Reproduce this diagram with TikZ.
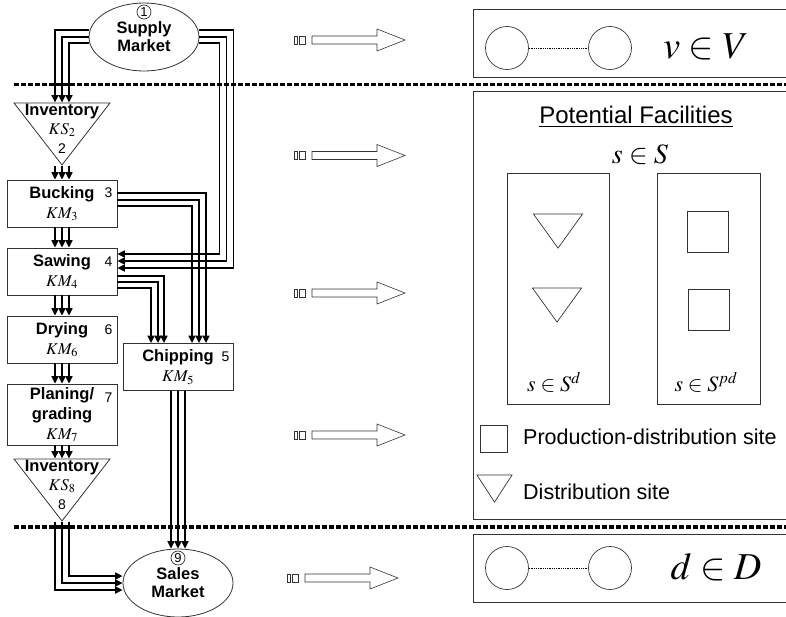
\documentclass[tikz,border=0pt]{standalone}
\usepackage{mathptmx}
\usepackage[no-math]{fontspec}
\setmainfont{Liberation Sans}
\usetikzlibrary{shapes.geometric, arrows.meta, positioning}
\tikzstyle{process} = [
    rectangle,
    minimum width=110pt,
    minimum height=47pt,
    inner sep=1pt,
    align=center,
    draw=black!80,
    line width=0.8pt,
    font=\fontsize{16.5}{20}\selectfont
]
\tikzstyle{market} = [
    ellipse,
    minimum width=110pt,
    minimum height=68pt,
    inner sep=0pt,
    align=center,
    draw=black!80,
    line width=0.8pt,
    font=\fontsize{16.5}{18}\selectfont\bfseries
]
\tikzstyle{inventory} = [
    isosceles triangle,
    shape border rotate=-90,
    isosceles triangle stretches,
    minimum width=96pt,
    minimum height=62pt,
    inner sep=0pt,
    draw=black!80,
    line width=0.8pt
]
\tikzstyle{invtext} = [
    align=center,
    inner sep=0pt,
    font=\fontsize{16.5}{19}\selectfont
]
\tikzstyle{tag} = [inner sep=0pt, font=\fontsize{14}{14}\selectfont]
\tikzstyle{numcirc} = [
    circle,
    minimum size=14pt,
    inner sep=0pt,
    draw=black!80,
    line width=0.7pt,
    font=\fontsize{13}{13}\selectfont
]
\tikzstyle{flow} = [line width=1.6pt, -{Triangle[length=7.5pt,width=7pt]}]
\tikzstyle{divider} = [line width=3.5pt, dash pattern=on 4.5pt off 2.5pt]
\tikzstyle{frame} = [draw=black!80, line width=0.8pt]
\tikzstyle{site} = [circle, minimum size=43pt, draw=black!80, line width=0.7pt]
\tikzstyle{linkdots} = [line width=1pt, dash pattern=on 1pt off 0.8pt]
\tikzstyle{facility} = [rectangle, minimum size=41pt, draw=black!80, line width=0.7pt]
\tikzstyle{depot} = [
    isosceles triangle,
    shape border rotate=-90,
    isosceles triangle stretches,
    minimum width=49pt,
    minimum height=34pt,
    inner sep=0pt,
    draw=black!80,
    line width=0.7pt
]
\tikzstyle{hollow} = [draw=black!80, line width=0.6pt, fill=white]

\begin{document}
\begin{tikzpicture}[x=1pt, y=-1pt]
\clip (0,0) rectangle (786,616);

\draw [divider] (14,84.5) -- (786,84.5);
\draw [divider] (14,527) -- (786,527);

\node (supply) [market] at (144,37) {Supply\\Market};
\node (c1) [numcirc] at (144,12) {1};

\node (inv2) [inventory, anchor=apex] at (62,166) {};
\node (inv2txt) [invtext, below=1pt of inv2.north]
{\textbf{Inventory}\\$KS_2$\\{\fontsize{14}{14}\selectfont 2}};

\node (bucking) [process] at (62,203.5) {\textbf{Bucking}\\$KM_3$};
\node (sawing) [process] at (62,271.5) {\textbf{Sawing}\\$KM_4$};
\node (drying) [process] at (62,339.5) {\textbf{Drying}\\$KM_6$};
\node (planing) [process, minimum height=61pt] at (62,414.5)
{\textbf{Planing/}\\\textbf{grading}\\$KM_7$};

\node (inv8) [inventory, anchor=apex] at (62,522) {};
\node (inv8txt) [invtext, below=1pt of inv8.north]
{\textbf{Inventory}\\$KS_8$\\{\fontsize{14}{14}\selectfont 8}};

\node (chipping) [process] at (178,367) {\textbf{Chipping}\\$KM_5$};

\node (sales) [market] at (178,583) {\\[-6pt]Sales\\Market};
\node (c9) [numcirc] at (178,558) {9};

\node (t3) [tag] at ([xshift=-9pt,yshift=-13pt]bucking.north east) {3};
\node (t4) [tag] at ([xshift=-9pt,yshift=-14pt]sawing.north east) {4};
\node (t6) [tag] at ([xshift=-9pt,yshift=-14pt]drying.north east) {6};
\node (t7) [tag] at ([xshift=-9pt,yshift=-14pt]planing.north east) {7};
\node (t5) [tag] at ([xshift=-8pt,yshift=-14pt]chipping.north east) {5};

\foreach \dx in {-7,0,7} {
    \draw [flow] ([xshift=\dx pt]inv2.apex) -- ([xshift=\dx pt]bucking.north);
    \draw [flow] ([xshift=\dx pt]bucking.south) -- ([xshift=\dx pt]sawing.north);
    \draw [flow] ([xshift=\dx pt]sawing.south) -- ([xshift=\dx pt]drying.north);
    \draw [flow] ([xshift=\dx pt]drying.south) -- ([xshift=\dx pt]planing.north);
    \draw [flow] ([xshift=\dx pt]planing.south) -- ([xshift=\dx pt]inv8.north);
    \draw [flow] ([xshift=\dx pt]chipping.south) -- ([xshift=\dx pt]sales.north);
    \draw [flow] ([xshift=\dx pt]inv8.apex) |- ([yshift=\dx pt]sales.west);
}
\foreach \dy/\dx in {7/-7, 0/0, -6/7}
    \draw [flow] ([yshift=\dy pt]supply.west) -| ([xshift=\dx pt]inv2.north);
\foreach \dy/\run/\ey in {7/34/3.5, 0/27/10.5, -6/20/17.5}
    \draw [flow] ([yshift=\dy pt]supply.east) -- ++(\run,0) |- ([yshift=\ey pt]sawing.east);
\foreach \dy/\dx in {10.5/28, 3.5/21, -2.5/14}
    \draw [flow] ([yshift=\dy pt]bucking.east) -| ([xshift=\dx pt]chipping.north);
\foreach \dy/\dx in {-4.5/-14, -10.5/-20, -16.5/-27}
    \draw [flow] ([yshift=\dy pt]sawing.east) -| ([xshift=\dx pt]chipping.north);

\foreach \y/\s in {40/0, 155.5/0, 293/0, 435/0, 578/-7} {
    \draw [hollow] ({294+\s},{\y-4}) rectangle ({297+\s},{\y+4});
    \draw [hollow] ({299+\s},{\y-4}) rectangle ({305+\s},{\y+4});
    \draw [hollow] ({312+\s},{\y-4}) -- ({377+\s},{\y-4}) -- ({377+\s},{\y-11})
        -- ({405+\s},\y) -- ({377+\s},{\y+11}) -- ({377+\s},{\y+4})
        -- ({312+\s},{\y+4}) -- cycle;
}

\draw [frame] (473,9) rectangle (800,77);
\node (v1) [site] at (507,48) {};
\node (v2) [site] at (610,48) {};
\draw [linkdots] (v1) -- (v2);
\node (vset) [font=\fontsize{38}{38}\selectfont] at (706,47) {$v\in V$};

\draw [frame] (473,91) rectangle (800,519);
\node (potential) [font=\fontsize{24}{24}\selectfont] at (636,117)
{\underline{Potential Facilities}};
\node (sset) [font=\fontsize{28}{28}\selectfont] at (640,155) {$s\in S$};
\node (sdbox) [rectangle, frame, minimum width=102pt, minimum height=231pt]
at (558,288.5) {};
\node (spdbox) [rectangle, frame, minimum width=103pt, minimum height=231pt]
at (708.5,288.5) {};
\node (d1) [depot, anchor=apex] at (558,249) {};
\node (d2) [depot, anchor=apex] at (557,323) {};
\node (p1) [facility] at (707.5,231.5) {};
\node (p2) [facility] at (708.5,310) {};
\node (sdset) [font=\fontsize{22}{22}\selectfont] at (554,382) {$s\in S^d$};
\node (spdset) [font=\fontsize{22}{22}\selectfont] at (706,382) {$s\in S^{pd}$};

\node (legsq) [facility, minimum width=29pt, minimum height=27pt,
    minimum size=27pt] at (493.5,438.5) {};
\node (legsqtxt) [anchor=west, inner sep=0pt, font=\fontsize{21.5}{22}\selectfont]
at (523,437) {Production-distribution site};
\node (legtri) [depot, minimum width=35pt, minimum height=27pt, anchor=apex]
at (494.5,503) {};
\node (legtritxt) [anchor=west, inner sep=0pt, font=\fontsize{21.5}{22}\selectfont]
at (523,492) {Distribution site};

\draw [frame] (473,534) rectangle (800,602);
\node (dd1) [site] at (507,568) {};
\node (dd2) [site] at (610,568) {};
\draw [linkdots] (dd1) -- (dd2);
\node (dset) [font=\fontsize{38}{38}\selectfont] at (716,567) {$d\in D$};

\end{tikzpicture}
\end{document}
